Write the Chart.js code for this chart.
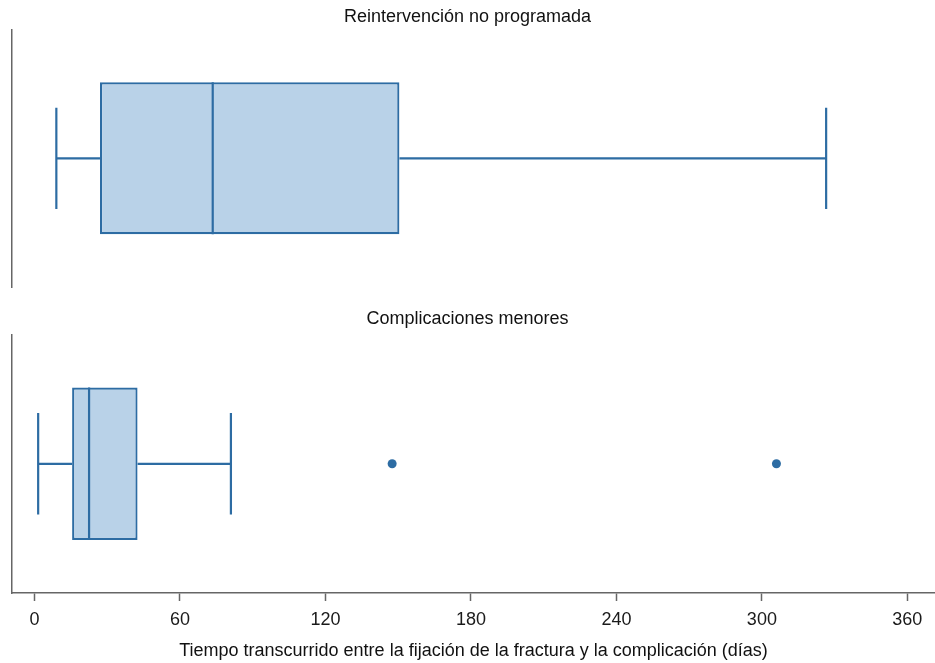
<!DOCTYPE html>
<html>
<head>
<meta charset="utf-8">
<script src="https://cdn.jsdelivr.net/npm/chart.js@4.4.1/dist/chart.umd.min.js"></script>
<style>
  html, body { margin: 0; padding: 0; background: #ffffff; }
  #wrap { position: relative; width: 935px; height: 663px; }
  canvas { position: absolute; left: 0; }
</style>
</head>
<body>
<div id="wrap">
  <canvas id="panel0" width="935" height="290" style="top:0px"></canvas>
  <canvas id="panel1" width="935" height="373" style="top:290px"></canvas>
</div>
<script>
// Box-plot summaries (days), one entry per panel
const panelTitles = ['Reintervención no programada', 'Complicaciones menores'];
const whiskerLow  = [9, 1.5];
const quartile1   = [27, 15.5];
const medians     = [73.5, 22.5];
const quartile3   = [150.5, 42.5];
const whiskerHigh = [326.5, 81];
const outliers    = [[], [147.5, 306]];
const xTicks      = [0, 60, 120, 180, 240, 300, 360];
const xTitle      = 'Tiempo transcurrido entre la fijación de la fractura y la complicación (días)';

Chart.defaults.font.family = "'Liberation Sans', Arial, Helvetica, sans-serif";
Chart.defaults.color = '#1a1a1a';

const STROKE = '#2d6ca3';
const FILL = '#b9d2e8';
const AXIS = '#666666';
const BOX_HALF = 0.59;    // half box height in y-units (y range -1..1)
const CAP_HALF = 0.393;   // half whisker-cap height

function segment(x0, y0, x1, y1) {
  return {
    type: 'line',
    data: [{ x: x0, y: y0 }, { x: x1, y: y1 }],
    borderColor: STROKE,
    borderWidth: 2.2,
    pointRadius: 0,
    fill: false,
    order: 0
  };
}

function buildPanel(i, canvasId, withAxis) {
  const datasets = [
    segment(medians[i], -BOX_HALF, medians[i], BOX_HALF),
    segment(whiskerLow[i], 0, quartile1[i], 0),
    segment(quartile3[i], 0, whiskerHigh[i], 0),
    segment(whiskerLow[i], -CAP_HALF, whiskerLow[i], CAP_HALF),
    segment(whiskerHigh[i], -CAP_HALF, whiskerHigh[i], CAP_HALF),
    {
      type: 'scatter',
      data: outliers[i].map(v => ({ x: v, y: 0 })),
      pointRadius: 4.5,
      pointBackgroundColor: STROKE,
      pointBorderColor: STROKE,
      pointBorderWidth: 0,
      order: 0
    },
    {
      type: 'bar',
      indexAxis: 'y',
      data: [{ x: [quartile1[i], quartile3[i]], y: 0 }],
      backgroundColor: FILL,
      borderColor: STROKE,
      borderWidth: 2.2,
      borderSkipped: false,
      categoryPercentage: 1,
      barPercentage: BOX_HALF,
      order: 1
    }
  ];

  const xScale = {
    type: 'linear',
    min: -9.29,
    max: 371.4,
    offset: false,
    display: withAxis,
    afterBuildTicks: s => { s.ticks = xTicks.map(v => ({ value: v })); },
    grid: {
      display: true,
      offset: false,
      drawOnChartArea: false,
      drawTicks: true,
      tickLength: 8,
      tickWidth: 1.5,
      tickColor: AXIS
    },
    border: { display: true, color: AXIS, width: 1.5 },
    ticks: { font: { size: 18 }, color: '#1a1a1a', padding: 8, maxRotation: 0, autoSkip: false },
    title: {
      display: true,
      text: xTitle,
      font: { size: 18 },
      color: '#111111',
      padding: { top: 0, bottom: 1 }
    }
  };
  if (withAxis) {
    xScale.afterFit = s => {
      s.height = 70;
      s.paddingLeft = 0;
      s.paddingRight = 0;
    };
  }

  return new Chart(document.getElementById(canvasId), {
    type: 'bar',
    data: { datasets },
    options: {
      responsive: false,
      animation: false,
      events: [],
      layout: {
        autoPadding: false,
        padding: { left: 0, right: 0, top: 0, bottom: withAxis ? 0 : 3 }
      },
      plugins: {
        legend: { display: false },
        tooltip: { enabled: false },
        title: {
          display: true,
          text: panelTitles[i],
          font: { size: 18, weight: 'normal' },
          color: '#111111',
          padding: withAxis ? { top: 18, bottom: 5 } : { top: 6, bottom: 2 }
        }
      },
      scales: {
        x: xScale,
        y: {
          type: 'linear',
          min: -1,
          max: 1,
          offset: false,
          afterBuildTicks: s => { s.ticks = [{ value: 0 }]; },
          afterFit: s => { s.width = 12; },
          grid: { display: false, offset: false },
          ticks: { display: false },
          border: { display: true, color: AXIS, width: 1.5 }
        }
      }
    }
  });
}

buildPanel(0, 'panel0', false);
buildPanel(1, 'panel1', true);
</script>
</body>
</html>
